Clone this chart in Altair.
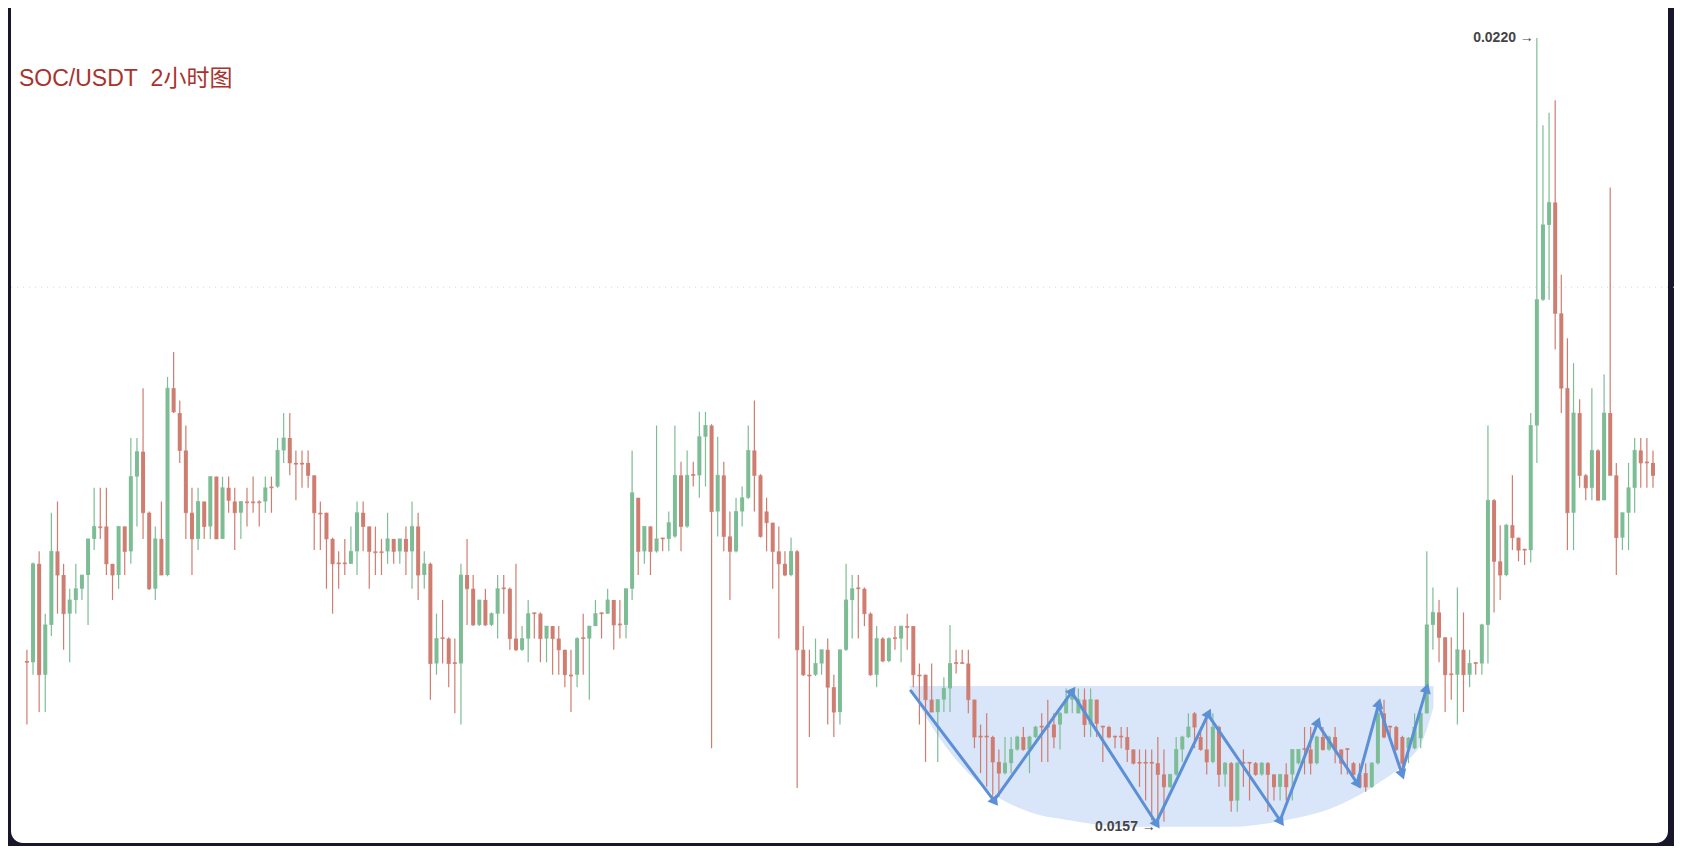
import math
import altair as alt
import pandas as pd

TITLE = "SOC/USDT\u00a0\u00a02小时图"

OPEN = [0.01700,0.01699,0.01778,0.01689,0.01729,0.01788,0.01769,0.01738,0.01749,0.01758,
0.01769,0.01798,0.01808,0.01808,0.01778,0.01769,0.01808,0.01788,0.01848,0.01868,
0.01819,0.01758,0.01798,0.01769,0.01919,0.01899,0.01869,0.01819,0.01798,0.01828,
0.01808,0.01848,0.01798,0.01839,0.01828,0.01819,0.01828,0.01828,0.01828,0.01828,
0.01840,0.01840,0.01869,0.01879,0.01859,0.01859,0.01859,0.01849,0.01819,0.01819,
0.01798,0.01779,0.01779,0.01778,0.01788,0.01819,0.01808,0.01788,0.01788,0.01788,
0.01798,0.01788,0.01798,0.01788,0.01808,0.01769,0.01778,0.01698,0.01719,0.01718,
0.01699,0.01698,0.01769,0.01758,0.01729,0.01749,0.01729,0.01738,0.01759,0.01758,
0.01718,0.01709,0.01718,0.01739,0.01738,0.01718,0.01728,0.01718,0.01709,0.01689,
0.01689,0.01719,0.01718,0.01728,0.01739,0.01738,0.01749,0.01730,0.01729,0.01758,
0.01831,0.01788,0.01808,0.01788,0.01799,0.01798,0.01800,0.01849,0.01808,0.01850,
0.01849,0.01880,0.01889,0.01820,0.01849,0.01800,0.01788,0.01820,0.01831,0.01869,
0.01849,0.01820,0.01811,0.01788,0.01778,0.01769,0.01788,0.01709,0.01689,0.01689,
0.01698,0.01709,0.01679,0.01659,0.01709,0.01749,0.01759,0.01758,0.01738,0.01689,
0.01718,0.01700,0.01719,0.01718,0.01728,0.01728,0.01689,0.01689,0.01669,0.01659,
0.01669,0.01678,0.01699,0.01699,0.01698,0.01669,0.01640,0.01640,0.01639,0.01619,
0.01610,0.01618,0.01629,0.01639,0.01629,0.01639,0.01648,0.01648,0.01649,0.01649,
0.01658,0.01669,0.01658,0.01669,0.01649,0.01669,0.01648,0.01647,0.01640,0.01640,
0.01639,0.01629,0.01619,0.01619,0.01619,0.01618,0.01609,0.01599,0.01609,0.01629,
0.01639,0.01658,0.01639,0.01629,0.01619,0.01647,0.01609,0.01618,0.01588,0.01619,
0.01619,0.01618,0.01609,0.01618,0.01609,0.01599,0.01609,0.01609,0.01618,0.01630,
0.01629,0.01618,0.01639,0.01629,0.01639,0.01629,0.01630,0.01618,0.01609,0.01610,
0.01599,0.01618,0.01658,0.01648,0.01647,0.01639,0.01630,0.01630,0.01638,0.01658,
0.01729,0.01739,0.01719,0.01690,0.01689,0.01709,0.01689,0.01699,0.01698,0.01729,
0.01829,0.01780,0.01769,0.01809,0.01799,0.01790,0.01789,0.01889,0.01990,0.02050,
0.02068,0.01979,0.01919,0.01819,0.01899,0.01849,0.01839,0.01869,0.01829,0.01899,
0.01849,0.01799,0.01819,0.01839,0.01869,0.01860,0.01859]

HIGH = [0.01709,0.01779,0.01788,0.01738,0.01819,0.01828,0.01778,0.01758,0.01778,0.01769,
0.01798,0.01839,0.01839,0.01839,0.01778,0.01808,0.01808,0.01879,0.01879,0.01919,
0.01820,0.01808,0.01828,0.01928,0.01948,0.01909,0.01889,0.01839,0.01839,0.01828,
0.01848,0.01848,0.01848,0.01848,0.01839,0.01828,0.01839,0.01848,0.01829,0.01848,
0.01848,0.01879,0.01899,0.01899,0.01869,0.01869,0.01869,0.01849,0.01828,0.01819,
0.01799,0.01788,0.01798,0.01808,0.01828,0.01828,0.01808,0.01808,0.01798,0.01819,
0.01798,0.01798,0.01808,0.01828,0.01819,0.01788,0.01779,0.01738,0.01749,0.01719,
0.01718,0.01778,0.01798,0.01769,0.01749,0.01758,0.01739,0.01769,0.01769,0.01759,
0.01778,0.01728,0.01749,0.01739,0.01739,0.01728,0.01728,0.01728,0.01709,0.01709,
0.01719,0.01738,0.01728,0.01749,0.01739,0.01758,0.01749,0.01749,0.01758,0.01869,
0.01831,0.01808,0.01808,0.01889,0.01799,0.01820,0.01889,0.01860,0.01869,0.01860,
0.01900,0.01900,0.01890,0.01880,0.01860,0.01820,0.01831,0.01840,0.01889,0.01909,
0.01850,0.01831,0.01811,0.01808,0.01788,0.01799,0.01789,0.01728,0.01709,0.01718,
0.01709,0.01718,0.01689,0.01709,0.01778,0.01769,0.01769,0.01759,0.01739,0.01728,
0.01719,0.01719,0.01728,0.01728,0.01738,0.01728,0.01698,0.01689,0.01698,0.01669,
0.01687,0.01729,0.01709,0.01709,0.01709,0.01669,0.01649,0.01658,0.01640,0.01629,
0.01639,0.01639,0.01640,0.01647,0.01640,0.01648,0.01658,0.01669,0.01658,0.01659,
0.01678,0.01678,0.01678,0.01678,0.01678,0.01669,0.01648,0.01648,0.01640,0.01647,
0.01647,0.01629,0.01629,0.01629,0.01629,0.01639,0.01629,0.01609,0.01639,0.01640,
0.01658,0.01659,0.01647,0.01658,0.01658,0.01648,0.01619,0.01619,0.01619,0.01629,
0.01619,0.01619,0.01619,0.01619,0.01609,0.01609,0.01618,0.01629,0.01629,0.01647,
0.01647,0.01640,0.01647,0.01640,0.01647,0.01629,0.01630,0.01619,0.01618,0.01618,
0.01619,0.01663,0.01669,0.01648,0.01648,0.01640,0.01639,0.01658,0.01659,0.01788,
0.01759,0.01749,0.01719,0.01719,0.01759,0.01739,0.01709,0.01699,0.01730,0.01889,
0.01830,0.01809,0.01810,0.01849,0.01799,0.01790,0.01899,0.02200,0.02130,0.02140,
0.02150,0.02010,0.01959,0.01939,0.01910,0.01850,0.01919,0.01870,0.01930,0.02080,
0.01859,0.01819,0.01859,0.01879,0.01879,0.01879,0.01869]

LOW = [0.01649,0.01689,0.01659,0.01659,0.01720,0.01738,0.01709,0.01699,0.01738,0.01749,
0.01729,0.01789,0.01798,0.01769,0.01749,0.01758,0.01769,0.01778,0.01808,0.01798,
0.01757,0.01749,0.01769,0.01768,0.01899,0.01859,0.01798,0.01769,0.01789,0.01798,
0.01798,0.01798,0.01798,0.01819,0.01789,0.01798,0.01808,0.01819,0.01808,0.01819,
0.01819,0.01839,0.01859,0.01849,0.01829,0.01839,0.01839,0.01789,0.01789,0.01758,
0.01738,0.01758,0.01769,0.01778,0.01769,0.01788,0.01758,0.01769,0.01769,0.01778,
0.01778,0.01778,0.01769,0.01758,0.01749,0.01758,0.01669,0.01689,0.01698,0.01679,
0.01658,0.01649,0.01729,0.01728,0.01728,0.01728,0.01728,0.01718,0.01738,0.01709,
0.01708,0.01708,0.01699,0.01718,0.01699,0.01699,0.01689,0.01689,0.01679,0.01659,
0.01679,0.01689,0.01669,0.01728,0.01718,0.01738,0.01709,0.01718,0.01718,0.01749,
0.01769,0.01778,0.01769,0.01787,0.01788,0.01788,0.01799,0.01788,0.01807,0.01840,
0.01831,0.01840,0.01630,0.01800,0.01788,0.01749,0.01787,0.01808,0.01830,0.01820,
0.01799,0.01788,0.01758,0.01718,0.01768,0.01768,0.01598,0.01688,0.01639,0.01688,
0.01689,0.01649,0.01639,0.01649,0.01708,0.01718,0.01718,0.01728,0.01688,0.01679,
0.01699,0.01699,0.01709,0.01699,0.01709,0.01679,0.01649,0.01619,0.01659,0.01619,
0.01659,0.01659,0.01690,0.01698,0.01658,0.01630,0.01610,0.01599,0.01591,0.01591,
0.01609,0.01610,0.01628,0.01628,0.01610,0.01638,0.01619,0.01619,0.01630,0.01629,
0.01658,0.01658,0.01658,0.01639,0.01639,0.01639,0.01619,0.01638,0.01630,0.01630,
0.01619,0.01617,0.01599,0.01588,0.01572,0.01570,0.01571,0.01598,0.01608,0.01619,
0.01638,0.01630,0.01628,0.01609,0.01618,0.01599,0.01599,0.01579,0.01579,0.01599,
0.01588,0.01608,0.01608,0.01579,0.01588,0.01588,0.01588,0.01588,0.01617,0.01609,
0.01609,0.01617,0.01628,0.01628,0.01618,0.01609,0.01609,0.01608,0.01598,0.01595,
0.01598,0.01617,0.01638,0.01639,0.01628,0.01609,0.01618,0.01629,0.01630,0.01658,
0.01709,0.01699,0.01659,0.01669,0.01649,0.01659,0.01679,0.01689,0.01689,0.01698,
0.01739,0.01749,0.01768,0.01789,0.01780,0.01777,0.01779,0.01859,0.01989,0.01990,
0.01950,0.01899,0.01789,0.01789,0.01839,0.01829,0.01829,0.01829,0.01829,0.01849,
0.01769,0.01789,0.01789,0.01819,0.01839,0.01839,0.01839]

CLOSE = [0.01699,0.01778,0.01689,0.01729,0.01788,0.01769,0.01738,0.01749,0.01758,0.01769,
0.01798,0.01808,0.01807,0.01778,0.01769,0.01808,0.01788,0.01848,0.01868,0.01819,
0.01758,0.01798,0.01769,0.01919,0.01900,0.01869,0.01819,0.01798,0.01828,0.01808,
0.01848,0.01798,0.01839,0.01829,0.01819,0.01828,0.01827,0.01827,0.01827,0.01839,
0.01839,0.01869,0.01879,0.01859,0.01858,0.01858,0.01849,0.01819,0.01818,0.01798,
0.01778,0.01778,0.01778,0.01788,0.01819,0.01808,0.01788,0.01787,0.01787,0.01798,
0.01788,0.01798,0.01788,0.01808,0.01769,0.01778,0.01698,0.01718,0.01718,0.01698,
0.01698,0.01769,0.01758,0.01729,0.01749,0.01729,0.01738,0.01758,0.01758,0.01718,
0.01709,0.01718,0.01738,0.01738,0.01718,0.01728,0.01718,0.01709,0.01689,0.01688,
0.01718,0.01718,0.01728,0.01738,0.01738,0.01749,0.01729,0.01729,0.01758,0.01835,
0.01788,0.01808,0.01788,0.01798,0.01798,0.01811,0.01849,0.01808,0.01849,0.01849,
0.01880,0.01889,0.01820,0.01849,0.01800,0.01788,0.01820,0.01831,0.01869,0.01849,
0.01800,0.01811,0.01788,0.01778,0.01769,0.01788,0.01709,0.01689,0.01688,0.01698,
0.01709,0.01679,0.01659,0.01709,0.01749,0.01758,0.01758,0.01738,0.01689,0.01718,
0.01700,0.01718,0.01718,0.01728,0.01727,0.01689,0.01688,0.01669,0.01659,0.01669,
0.01678,0.01698,0.01698,0.01698,0.01669,0.01639,0.01639,0.01639,0.01619,0.01610,
0.01618,0.01629,0.01639,0.01629,0.01639,0.01647,0.01647,0.01647,0.01639,0.01658,
0.01669,0.01674,0.01669,0.01649,0.01669,0.01650,0.01647,0.01639,0.01639,0.01639,
0.01629,0.01618,0.01618,0.01618,0.01618,0.01609,0.01599,0.01609,0.01629,0.01639,
0.01647,0.01647,0.01629,0.01619,0.01647,0.01609,0.01618,0.01588,0.01618,0.01618,
0.01618,0.01609,0.01618,0.01609,0.01599,0.01609,0.01599,0.01629,0.01629,0.01629,
0.01618,0.01639,0.01629,0.01639,0.01629,0.01618,0.01629,0.01609,0.01599,0.01599,
0.01618,0.01658,0.01639,0.01647,0.01629,0.01618,0.01638,0.01647,0.01658,0.01729,
0.01739,0.01719,0.01689,0.01689,0.01709,0.01689,0.01698,0.01698,0.01729,0.01829,
0.01780,0.01769,0.01809,0.01799,0.01789,0.01789,0.01889,0.01990,0.02050,0.02068,
0.01979,0.01919,0.01819,0.01899,0.01849,0.01839,0.01869,0.01829,0.01899,0.01849,
0.01799,0.01819,0.01839,0.01869,0.01859,0.01859,0.01849]

# shaded "bowl" annotation (candle index, lower edge price), flat top price
BOWL_IDX = [145.3, 149.2, 153.5, 158.8, 164.9, 171.8, 180.6, 189.3, 198.0, 206.7, 215.5, 222.4, 226.8, 229.4, 231.1]
BOWL_LOW = [0.01680, 0.01646, 0.01618, 0.01594, 0.01579, 0.01572, 0.01567, 0.01567, 0.01567, 0.01572, 0.01584, 0.01603, 0.01620, 0.01637, 0.01663]
BOWL_TOP = 0.01680

# zig-zag arrows (candle index, price)
ZIG_IDX = [145.6, 159.2, 171.9, 185.7, 194.2, 206.0, 212.1, 218.6, 222.1, 225.9, 229.9]
ZIG_PRICE = [0.01676, 0.01588, 0.01675, 0.01570, 0.01657, 0.01572, 0.01650, 0.01602, 0.01665, 0.01610, 0.01677]

GRID_PRICE = [0.0200]

# ---------------- layout ----------------
W, H = 1666, 838
X_FIRST_PX = 14.0       # pixel of first candle
X_STEP = 6.15           # px per candle
PX_PER_PRICE = 124602.0 # px per 1.0 price
TOP_REF_PRICE, TOP_REF_PX = 0.0220, 30.0

XDOM = [1 - X_FIRST_PX / X_STEP, 1 + (W - X_FIRST_PX) / X_STEP]
YDOM = [TOP_REF_PRICE - (H - TOP_REF_PX) / PX_PER_PRICE, TOP_REF_PRICE + TOP_REF_PX / PX_PER_PRICE]

xs = alt.Scale(domain=XDOM, nice=False, zero=False)
ys = alt.Scale(domain=YDOM, nice=False, zero=False)

GREEN, RED = "#46a066", "#c1452e"
GREEN_W, RED_W = "#7dbd95", "#cf7d70"
BLUE = "#5b8fd6"

N = len(OPEN)
df = pd.DataFrame({
    "idx": list(range(1, N + 1)),
    "open": OPEN, "high": HIGH, "low": LOW, "close": CLOSE,
})
df["dir"] = ["up" if c >= o else "down" for o, c in zip(OPEN, CLOSE)]

body_color = alt.Color("dir:N", scale=alt.Scale(domain=["up", "down"], range=[GREEN, RED]), legend=None)
wick_color = alt.Color("dir:N", scale=alt.Scale(domain=["up", "down"], range=[GREEN_W, RED_W]), legend=None)

one = pd.DataFrame({"a": [0]})

frame = alt.Chart(one).mark_rect(color="white", cornerRadius=12).encode(
    x=alt.value(3), x2=alt.value(1660), y=alt.value(-20), y2=alt.value(835)
)

grid = alt.Chart(pd.DataFrame({"p": GRID_PRICE})).mark_rule(
    color="#d9d9d9", strokeDash=[1, 5], strokeWidth=1
).encode(y=alt.Y("p:Q", scale=ys, axis=None))

bowl_df = pd.DataFrame({"idx": BOWL_IDX, "low": BOWL_LOW, "top": [BOWL_TOP] * len(BOWL_IDX)})
bowl = alt.Chart(bowl_df).mark_area(color="#d9e5f8", opacity=1, interpolate="monotone").encode(
    x=alt.X("idx:Q", scale=xs, axis=None),
    y=alt.Y("low:Q", scale=ys, axis=None),
    y2="top:Q",
)

wicks = alt.Chart(df).mark_rule(strokeWidth=1.2).encode(
    x=alt.X("idx:Q", scale=xs, axis=None),
    y=alt.Y("low:Q", scale=ys, axis=None),
    y2="high:Q",
    color=wick_color,
)

bodies = alt.Chart(df).mark_bar(size=4).encode(
    x=alt.X("idx:Q", scale=xs, axis=None),
    y=alt.Y("open:Q", scale=ys, axis=None),
    y2="close:Q",
    color=body_color,
)

ticks = alt.Chart(df).mark_tick(orient="horizontal", size=4, thickness=1).encode(
    x=alt.X("idx:Q", scale=xs, axis=None),
    y=alt.Y("close:Q", scale=ys, axis=None),
    color=body_color,
)

zig_df = pd.DataFrame({"idx": ZIG_IDX, "p": ZIG_PRICE, "o": list(range(len(ZIG_IDX)))})
zig = alt.Chart(zig_df).mark_line(color=BLUE, strokeWidth=3, strokeCap="round", strokeJoin="round").encode(
    x=alt.X("idx:Q", scale=xs, axis=None),
    y=alt.Y("p:Q", scale=ys, axis=None),
    order="o:Q",
)

px_x = W / (XDOM[1] - XDOM[0])
px_y = H / (YDOM[1] - YDOM[0])
heads = []
for i in range(1, len(ZIG_IDX)):
    dx = (ZIG_IDX[i] - ZIG_IDX[i - 1]) * px_x
    dy = (ZIG_PRICE[i] - ZIG_PRICE[i - 1]) * px_y
    ang = (math.degrees(math.atan2(dx, dy)) + 360) % 360
    heads.append({"idx": ZIG_IDX[i], "p": ZIG_PRICE[i], "ang": ang})
heads_df = pd.DataFrame(heads)
arrows = alt.Chart(heads_df).mark_point(shape="triangle", filled=True, size=130, color=BLUE, opacity=1).encode(
    x=alt.X("idx:Q", scale=xs, axis=None),
    y=alt.Y("p:Q", scale=ys, axis=None),
    angle=alt.Angle("ang:Q", scale=None),
)

hi_i = max(range(N), key=lambda k: HIGH[k])
lo_i = min(range(N), key=lambda k: LOW[k])
lab_df = pd.DataFrame({
    "idx": [hi_i + 1, lo_i + 1],
    "p": [HIGH[hi_i], LOW[lo_i]],
    "t": [f"{HIGH[hi_i]:.4f} \u2192", f"{LOW[lo_i]:.4f} \u2192"],
})
hi_lab = alt.Chart(lab_df.iloc[[0]]).mark_text(
    align="right", baseline="middle", dx=-3, dy=0, fontSize=14, fontWeight=600,
    font="Liberation Sans", color="#444444"
).encode(x=alt.X("idx:Q", scale=xs, axis=None), y=alt.Y("p:Q", scale=ys, axis=None), text="t:N")
lo_lab = alt.Chart(lab_df.iloc[[1]]).mark_text(
    align="right", baseline="middle", dx=-2, dy=4, fontSize=14, fontWeight=600,
    font="Liberation Sans", color="#444444"
).encode(x=alt.X("idx:Q", scale=xs, axis=None), y=alt.Y("p:Q", scale=ys, axis=None), text="t:N")

title = alt.Chart(one).mark_text(
    align="left", baseline="middle", fontSize=23, font="Liberation Sans, Noto Sans CJK SC",
    color="#a8332d", text=TITLE
).encode(x=alt.value(11), y=alt.value(71))

chart = alt.layer(
    frame, grid, bowl, wicks, bodies, ticks, zig, arrows, hi_lab, lo_lab, title
).properties(
    width=W, height=H, background="#17162b", padding=0,
    autosize=alt.AutoSizeParams(type="none"),
).configure_view(stroke=None)

chart.save("out.html", embed_options={"renderer": "svg", "actions": False})
